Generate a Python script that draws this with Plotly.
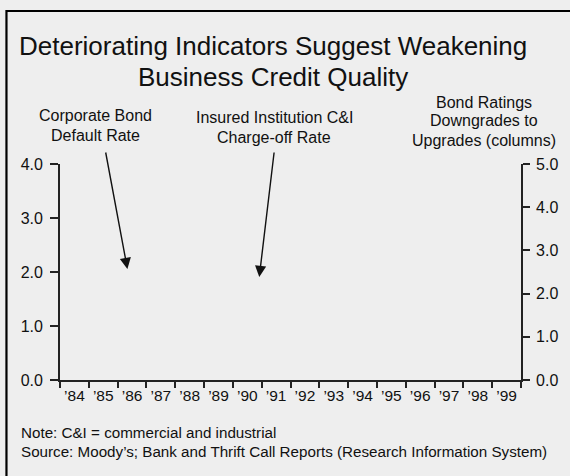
import plotly.graph_objects as go

# ---- data (the reference chart shows axes only; no series are drawn) ----
years = ["\u201984", "\u201985", "\u201986", "\u201987", "\u201988", "\u201989", "\u201990", "\u201991",
         "\u201992", "\u201993", "\u201994", "\u201995", "\u201996", "\u201997", "\u201998", "\u201999"]
left_ticks = [0.0, 1.0, 2.0, 3.0, 4.0]
right_ticks = [0.0, 1.0, 2.0, 3.0, 4.0, 5.0]

title_lines = ["Deteriorating Indicators Suggest Weakening", "Business Credit Quality"]
label_default = ["Corporate Bond", "Default Rate"]
label_chargeoff = ["Insured Institution C&I", "Charge-off Rate"]
label_ratings = ["Bond Ratings", "Downgrades to", "Upgrades (columns)"]
note_lines = ["Note: C&I = commercial and industrial",
              "Source: Moody\u2019s; Bank and Thrift Call Reports (Research Information System)"]

W, H = 570, 476
L, R, T, B = 60, 525, 164, 380  # plot area in pixels
FONT = "Liberation Sans, Arial, Helvetica, sans-serif"
BG = "#eeeeee"
INK = "#111111"


def px(xp):
    return (xp - L) / (R - L)


def py(yp):
    return (B - yp) / (B - T)


fig = go.Figure()
fig.add_trace(go.Scatter(x=years, y=[None] * len(years), mode="lines",
                         showlegend=False, hoverinfo="skip"))
fig.add_trace(go.Scatter(x=years, y=[None] * len(years), mode="lines", yaxis="y2",
                         showlegend=False, hoverinfo="skip"))

anns = []


def text(s, xp, yp, size, xanchor="center"):
    anns.append(dict(text=s, x=px(xp), y=py(yp), xref="paper", yref="paper",
                     xanchor=xanchor, yanchor="middle", showarrow=False,
                     font=dict(size=size, color=INK, family=FONT)))


text(title_lines[0], 275, 46, 26)
text(title_lines[1], 275, 77, 26)
for i, s in enumerate(label_default):
    text(s, 95.5, 116 + 19 * i, 16)
for i, s in enumerate(label_chargeoff):
    text(s, 276, 118 + 19 * i, 16)
for i, s in enumerate(label_ratings):
    text(s, 488, 102 + 19 * i, 16)
for i, s in enumerate(note_lines):
    text(s, 19, 432 + 19 * i, 15.2, xanchor="left")


def arrow(tail, tip):
    anns.append(dict(text="", x=px(tip[0]), y=py(tip[1]), xref="paper", yref="paper",
                     ax=tail[0] - tip[0], ay=tail[1] - tip[1], axref="pixel", ayref="pixel",
                     showarrow=True, arrowhead=2, arrowsize=1.6, arrowwidth=1.4,
                     arrowcolor=INK, standoff=0))


arrow((106, 151), (128, 269))
arrow((276, 151), (261, 277))

fig.update_layout(
    width=W, height=H, autosize=False,
    margin=dict(l=L, r=W - R, t=T, b=H - B, pad=0),
    paper_bgcolor=BG, plot_bgcolor=BG,
    font=dict(family=FONT, size=16, color=INK),
    showlegend=False,
    annotations=anns,
    shapes=[dict(type="rect", xref="paper", yref="paper",
                 x0=px(6), x1=px(590), y0=py(11), y1=py(500),
                 line=dict(color="#000000", width=2.2), fillcolor="rgba(0,0,0,0)")],
    xaxis=dict(type="category", categoryorder="array", categoryarray=years,
               range=[-0.5, len(years) - 0.5], tickson="boundaries", tickangle=0,
               ticks="outside", ticklen=6, tickwidth=1.5, tickcolor="#222",
               showline=True, linecolor="#222", linewidth=1.8,
               showgrid=False, zeroline=False, fixedrange=True,
               tickfont=dict(size=15.5, color=INK, family=FONT)),
    yaxis=dict(range=[0, 4], tickvals=left_ticks, tickformat=".1f",
               ticks="outside", ticklen=8, tickwidth=1.5, tickcolor="#222",
               ticklabelstandoff=4,
               showline=True, linecolor="#222", linewidth=1.8,
               showgrid=False, zeroline=False, fixedrange=True,
               tickfont=dict(size=16, color=INK, family=FONT)),
    yaxis2=dict(range=[0, 5], tickvals=right_ticks, tickformat=".1f",
                overlaying="y", side="right", anchor="x",
                ticks="outside", ticklen=7, tickwidth=1.5, tickcolor="#222",
                ticklabelstandoff=3,
                showline=True, linecolor="#222", linewidth=1.8,
                showgrid=False, zeroline=False, fixedrange=True,
                tickfont=dict(size=16, color=INK, family=FONT)),
)

fig.write_html("out.html", config={"displayModeBar": False},
               post_script="document.body.style.margin='0';document.body.style.overflow='hidden';")
